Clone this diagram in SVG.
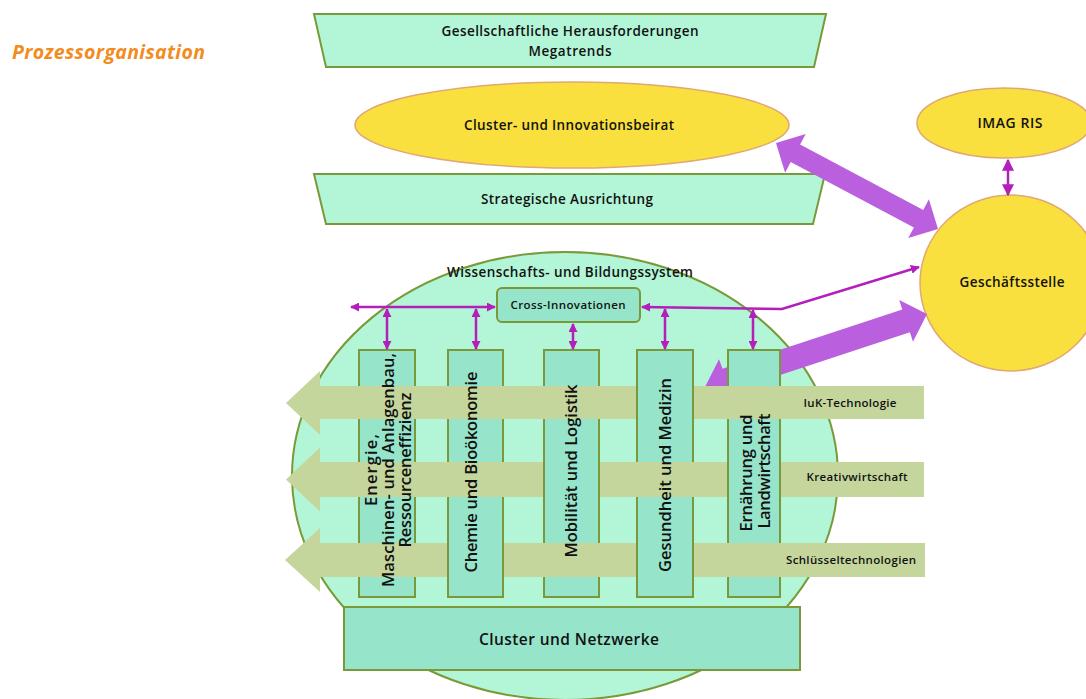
<svg xmlns="http://www.w3.org/2000/svg" width="1086" height="699" viewBox="0 0 1086 699">
<style>
.t{font-family:"Open Sans","Liberation Sans",sans-serif;font-weight:600;fill:#111111;text-anchor:middle}
.mint{fill:#B3F5D7;stroke:#7A9A3A;stroke-width:2}
.teal{fill:#96E5CB;stroke:#7A9A3A;stroke-width:2}
.tealf{fill:#96E5CB}
.edge{stroke:#7A9A3A;stroke-width:2}
.yel{fill:#F9E03E;stroke:#E0A872;stroke-width:1.5}
.bar{fill:#C4D69B}
.fat{fill:#BA5FDE}
.mag{fill:none;stroke:#B41EBB;stroke-width:2.5}
</style>
<defs>
<marker id="mh" viewBox="0 0 10 10" refX="9" refY="5" markerWidth="9" markerHeight="9" markerUnits="userSpaceOnUse" orient="auto-start-reverse"><path d="M0,0 L10,5 L0,10 z" fill="#B41EBB"/></marker>
<marker id="mh2" viewBox="0 0 10 10" refX="9" refY="5" markerWidth="12" markerHeight="12" markerUnits="userSpaceOnUse" orient="auto-start-reverse"><path d="M0,0 L10,5 L0,10 z" fill="#B41EBB"/></marker>
</defs>
<rect width="1086" height="699" fill="#ffffff"/>

<text x="12" y="59" font-family="Open Sans, Liberation Sans, sans-serif" font-weight="700" font-style="italic" font-size="19.5" fill="#F28C1E" textLength="193">Prozessorganisation</text>

<g id="megatrends">
<polygon class="mint" points="314,14 826,14 814,67 326,67"/>
<text class="t" x="570" y="36" font-size="13.5" textLength="257">Gesellschaftliche Herausforderungen</text>
<text class="t" x="570" y="56" font-size="13.5" textLength="83">Megatrends</text>
</g>

<g id="beirat">
<ellipse class="yel" cx="572" cy="125" rx="217" ry="43"/>
<text class="t" x="569" y="130" font-size="13.5" textLength="210">Cluster- und Innovationsbeirat</text>
</g>

<g id="strategie">
<polygon class="mint" points="314,174 825,174 813,224 326,224"/>
<text class="t" x="567" y="204" font-size="13.5" textLength="172">Strategische Ausrichtung</text>
</g>

<g id="imag">
<ellipse class="yel" cx="1004" cy="123" rx="87" ry="35"/>
<text class="t" x="1010" y="128" font-size="14" textLength="65">IMAG RIS</text>
</g>

<g id="geschaeftsstelle">
<ellipse class="yel" cx="1011" cy="283" rx="91" ry="88"/>
<text class="t" x="1012" y="287" font-size="13.5" textLength="105">Geschäftsstelle</text>
</g>

<g id="wissenschaft">
<ellipse class="mint" cx="565" cy="476" rx="273" ry="224"/>
<text class="t" x="570" y="277" font-size="13.5" textLength="246">Wissenschafts- und Bildungssystem</text>
</g>

<g id="fat-arrow-2">
<polygon class="fat" points="705,387 719,359.2 722.5,368.7 902.3,309.5 899.2,300 927,314 913,341.8 909.9,332.3 730.1,391.5 732.8,401"/>
</g>

<g id="cross">
<rect class="teal" x="497" y="288" width="143" height="34" rx="5"/>
<text class="t" x="568" y="309" font-size="11.5" textLength="115">Cross-Innovationen</text>
</g>

<g id="columns">
<rect class="teal" x="359" y="350" width="56" height="247"/>
<rect class="teal" x="448" y="350" width="55" height="247"/>
<rect class="teal" x="544" y="350" width="55" height="247"/>
<rect class="teal" x="637" y="350" width="56" height="247"/>
<rect class="teal" x="728" y="350" width="52" height="247"/>
</g>

<g id="bars">
<polygon class="bar" points="286,403 320,371 320,386 924,386 924,419 320,419 320,435"/>
<polygon class="bar" points="286,479.5 320,447.5 320,462 924,462 924,497 320,497 320,511.5"/>
<polygon class="bar" points="285,560 320,528 320,543 925,543 925,577 320,577 320,592"/>
</g>

<g id="weave">
<rect class="tealf" x="638" y="386" width="54" height="33"/>
<path class="edge" d="M637,386 V419 M693,386 V419"/>
<rect class="tealf" x="545" y="462" width="53" height="35"/>
<path class="edge" d="M544,462 V497 M599,462 V497"/>
<rect class="tealf" x="729" y="462" width="50" height="35"/>
<path class="edge" d="M728,462 V497 M780,462 V497"/>
<rect class="tealf" x="449" y="543" width="53" height="34"/>
<path class="edge" d="M448,543 V577 M503,543 V577"/>
<rect class="tealf" x="638" y="543" width="54" height="34"/>
<path class="edge" d="M637,543 V577 M693,543 V577"/>
</g>

<g id="column-labels">
<text class="t" font-size="16.5" transform="translate(377,470) rotate(-90)" textLength="72">Energie,</text>
<text class="t" font-size="16.5" transform="translate(394,470) rotate(-90)" textLength="234">Maschinen- und Anlagenbau,</text>
<text class="t" font-size="16.5" transform="translate(411,470) rotate(-90)" textLength="155">Ressourceneffizienz</text>
<text class="t" font-size="16.5" transform="translate(477,472) rotate(-90)" textLength="201">Chemie und Bioökonomie</text>
<text class="t" font-size="16.5" transform="translate(577,471) rotate(-90)" textLength="173">Mobilität und Logistik</text>
<text class="t" font-size="16.5" transform="translate(671,475) rotate(-90)" textLength="194">Gesundheit und Medizin</text>
<text class="t" font-size="16.5" transform="translate(752,473) rotate(-90)" textLength="117">Ernährung und</text>
<text class="t" font-size="16.5" transform="translate(770,471) rotate(-90)" textLength="115">Landwirtschaft</text>
</g>

<g id="bar-labels">
<text class="t" x="850" y="407" font-size="11.5" textLength="93">IuK-Technologie</text>
<text class="t" x="857" y="481" font-size="11.5" textLength="101">Kreativwirtschaft</text>
<text class="t" x="851" y="564" font-size="11.5" textLength="130">Schlüsseltechnologien</text>
</g>

<g id="netzwerke">
<rect class="teal" x="344" y="607" width="456" height="63"/>
<text class="t" x="569" y="645" font-size="15.5" textLength="180">Cluster und Netzwerke</text>
</g>

<g id="connectors">
<polygon class="fat" points="776,143 805.7,133.9 800.1,144.5 923.3,209.9 928.9,199.3 938,229 908.3,238.1 913.9,227.5 790.7,162.1 785.1,172.7"/>
<path class="mag" d="M351,307 H495" marker-start="url(#mh)" marker-end="url(#mh)"/>
<path class="mag" d="M642,307 L782,309 L919,267" marker-start="url(#mh)" marker-end="url(#mh)"/>
<path class="mag" stroke-width="3" d="M387,309 V349" marker-start="url(#mh)" marker-end="url(#mh)"/>
<path class="mag" stroke-width="3" d="M476,309 V349" marker-start="url(#mh)" marker-end="url(#mh)"/>
<path class="mag" stroke-width="3" d="M573,324 V349" marker-start="url(#mh)" marker-end="url(#mh)"/>
<path class="mag" stroke-width="3" d="M665,309 V349" marker-start="url(#mh)" marker-end="url(#mh)"/>
<path class="mag" stroke-width="3" d="M753,310 V349" marker-start="url(#mh)" marker-end="url(#mh)"/>
<path class="mag" stroke-width="4" d="M1008,160 V195" marker-start="url(#mh2)" marker-end="url(#mh2)"/>
</g>
</svg>
